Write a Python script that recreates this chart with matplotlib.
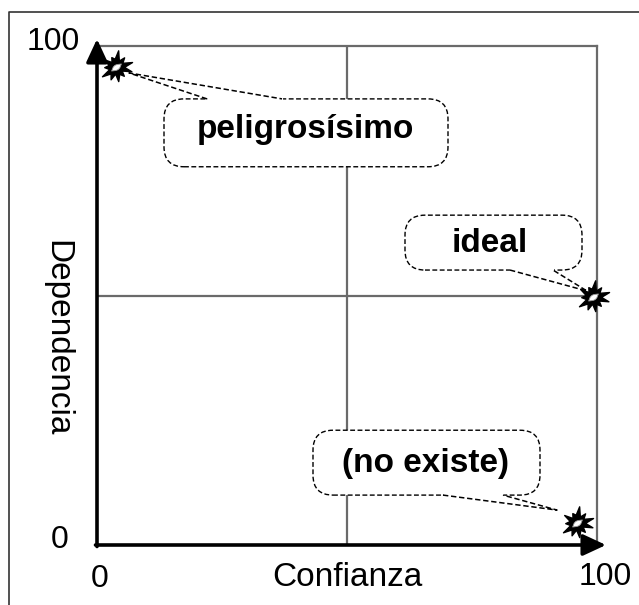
import numpy as np
import matplotlib
matplotlib.use('Agg')
import matplotlib.pyplot as plt
from matplotlib.patches import FancyBboxPatch
from matplotlib.path import Path
from matplotlib.lines import Line2D

plt.rcParams['font.family'] = ['Liberation Sans', 'DejaVu Sans']

# data
labels = ['peligrosísimo', 'ideal', '(no existe)']
confianza = [3.8, 99.2, 96.0]
dependencia = [95.8, 49.7, 4.4]
x_label = 'Confianza'
y_label = 'Dependencia'
tick_vals = [0, 100]

# callout layout (data units): box x0, x1, y0, y1, text x, y, wedge base x0, x1, tip x, y
callouts = [
    (13.4, 70.2, 75.8, 89.4, 41.7, 83.2, 22.0, 37.0, 6.4, 94.6),
    (61.6, 97.0, 55.1, 66.1, 78.6, 60.4, 82.6, 91.2, 98.0, 50.9),
    (43.2, 88.6, 10.0, 23.0, 65.8, 16.4, 69.2, 81.2, 92.0, 7.0),
]


def starburst():
    radii = [1.0, 0.45, 0.75, 0.42, 1.0, 0.5, 0.65, 0.4, 0.9, 0.45, 0.7, 0.42,
             1.0, 0.5, 0.8, 0.4, 0.85, 0.45, 0.7, 0.4, 0.95, 0.48]
    n = len(radii)
    ang = np.linspace(0, 2 * np.pi, n, endpoint=False) + 0.3
    verts = [(r * np.cos(a), r * np.sin(a)) for r, a in zip(radii, ang)]
    verts.append(verts[0])
    codes = [Path.MOVETO] + [Path.LINETO] * (n - 1) + [Path.CLOSEPOLY]
    return Path(verts, codes)


def spot():
    # small elongated white flash in the middle of the burst
    radii = [1.0, 0.5, 0.45, 0.55, 1.0, 0.5, 0.45, 0.55]
    n = len(radii)
    ang = np.linspace(0, 2 * np.pi, n, endpoint=False) + np.pi / 5
    verts = [(r * np.cos(a), r * np.sin(a)) for r, a in zip(radii, ang)]
    verts.append(verts[0])
    codes = [Path.MOVETO] + [Path.LINETO] * (n - 1) + [Path.CLOSEPOLY]
    return Path(verts, codes)


fig = plt.figure(figsize=(6.39, 6.05), dpi=100)
W, H = 639, 605
ax = fig.add_axes([97 / W, (H - 545) / H, 500 / W, 499 / H])
ax.set_xlim(0, 100)
ax.set_ylim(0, 100)
ax.axis('off')

# outer frame (only top and left visible)
fig.add_artist(Line2D([9 / W, 9 / W, 1], [0, 1 - 12 / H, 1 - 12 / H],
                      transform=fig.transFigure, color='#333333', lw=1.2))

grey = '#6a6a6a'
ax.plot([0, 100], [100, 100], color=grey, lw=1.6, clip_on=False)
ax.plot([100, 100], [0, 100], color=grey, lw=1.6, clip_on=False)
ax.plot([50, 50], [0, 100], color=grey, lw=1.6)
ax.plot([0, 100], [50, 50], color=grey, lw=1.6)

arrow = dict(arrowstyle='-|>,head_length=1.4,head_width=0.65', lw=2.6,
             color='black', shrinkA=0, shrinkB=0)
ax.annotate('', xy=(101.8, 0), xytext=(-0.3, 0), arrowprops=arrow,
            annotation_clip=False)
ax.annotate('', xy=(0, 101.4), xytext=(0, -0.3), arrowprops=arrow,
            annotation_clip=False)

fs = 23
ax.text(0.6, -6.8, str(tick_vals[0]), ha='center', va='center', fontsize=fs)
ax.text(101.6, -6.5, str(tick_vals[1]), ha='center', va='center', fontsize=fs)
ax.text(-7.4, 1.0, str(tick_vals[0]), ha='center', va='center', fontsize=fs)
ax.text(-8.8, 100.8, str(tick_vals[1]), ha='center', va='center', fontsize=fs)
ax.text(50, -6.6, x_label, ha='center', va='center', fontsize=fs + 1)
ax.text(-8.0, 41.5, y_label, ha='center', va='center', fontsize=fs + 1,
        rotation=-90)

dash = (0, (3.5, 1.8))
for lab, c in zip(labels, callouts):
    bx0, bx1, by0, by1, tx, ty, wx0, wx1, px, py = c
    box = FancyBboxPatch((bx0, by0), bx1 - bx0, by1 - by0,
                         boxstyle='round,pad=0,rounding_size=4',
                         fc='white', ec='black', lw=1.0, ls=dash, zorder=4)
    ax.add_patch(box)
    edge_y = by1 if py > by1 else by0
    ax.plot([wx0 + 0.3, wx1 - 0.3], [edge_y, edge_y], color='white', lw=2.2,
            zorder=5)
    ax.plot([wx0, px, wx1], [edge_y, py, edge_y], color='black', lw=1.1,
            ls=dash, zorder=5)
    ax.text(tx, ty, lab, ha='center', va='center', fontsize=24,
            fontweight='bold', zorder=6)

ax.plot(confianza, dependencia, ls='none', marker=starburst(), ms=24,
        color='black', zorder=7, clip_on=False)
ax.plot(confianza, dependencia, ls='none', marker=spot(), ms=7,
        color='white', mec='#999999', mew=0.6, zorder=8, clip_on=False)

fig.savefig('out.png', dpi=100)
